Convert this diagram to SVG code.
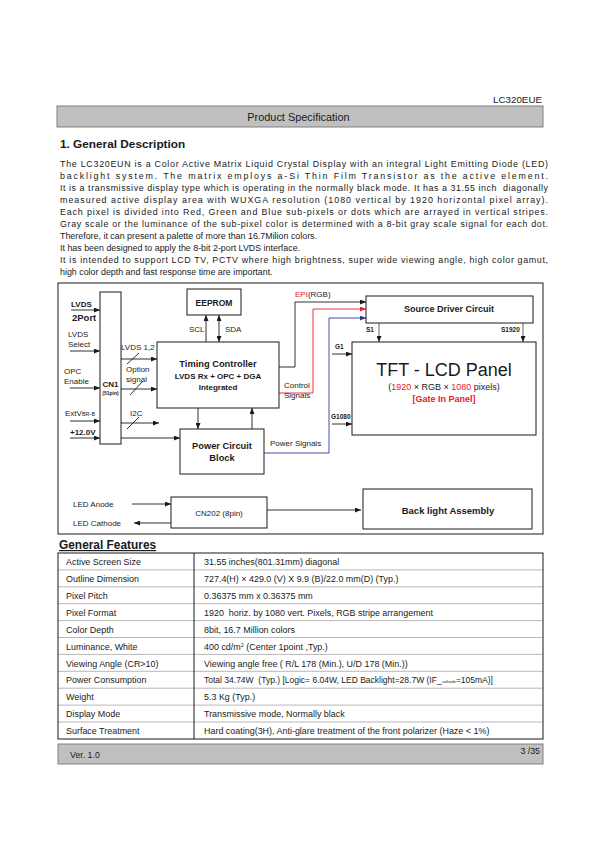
<svg xmlns="http://www.w3.org/2000/svg" width="595" height="842" viewBox="0 0 595 842">
<style>
text{font-family:"Liberation Sans",Arial,sans-serif;fill:#1a1a1a}
.p{font-size:8.9px}
.b{font-weight:bold}
.box{fill:#fff;stroke:#1a1a1a;stroke-width:1}
.ln{fill:none;stroke:#1a1a1a;stroke-width:0.9}
.lb{font-size:8px}
.t{font-size:8.95px}
.row{stroke:#999;stroke-width:0.7}
.pre{white-space:pre}
</style>
<defs>
<marker id="ah" markerUnits="userSpaceOnUse" markerWidth="6" markerHeight="5" refX="6" refY="2.5" orient="auto-start-reverse"><path d="M0,0 L6,2.5 L0,5 z" fill="#1a1a1a"/></marker>
<marker id="ahr" markerUnits="userSpaceOnUse" markerWidth="6" markerHeight="5" refX="6" refY="2.5" orient="auto"><path d="M0,0 L6,2.5 L0,5 z" fill="#e8202a"/></marker>
<marker id="ahb" markerUnits="userSpaceOnUse" markerWidth="6" markerHeight="5" refX="6" refY="2.5" orient="auto"><path d="M0,0 L6,2.5 L0,5 z" fill="#2b3a9a"/></marker>
</defs>
<rect width="595" height="842" fill="#fff"/>

<!-- header -->
<text x="542" y="103" font-size="9.8" text-anchor="end">LC320EUE</text>
<rect x="57" y="106" width="486" height="21" fill="#c0c0c0" stroke="#808080" stroke-width="1"/>
<text x="298.5" y="121" font-size="10.9" text-anchor="middle">Product Specification</text>
<text x="60" y="148" font-size="11.8" class="b">1. General Description</text>

<!-- paragraph -->
<g class="p">
<text x="60" y="167" textLength="488" lengthAdjust="spacing">The LC320EUN is a Color Active Matrix Liquid Crystal Display with an integral Light Emitting Diode (LED)</text>
<text x="60" y="179" textLength="488" lengthAdjust="spacing">backlight system. The matrix employs a-Si Thin Film Transistor as the active element.</text>
<text x="60" y="191" textLength="488" lengthAdjust="spacing" class="pre">It is a transmissive display type which is operating in the normally black mode. It has a 31.55 inch  diagonally</text>
<text x="60" y="203" textLength="488" lengthAdjust="spacing">measured active display area with WUXGA resolution (1080 vertical by 1920 horizontal pixel array).</text>
<text x="60" y="215" textLength="488" lengthAdjust="spacing">Each pixel is divided into Red, Green and Blue sub-pixels or dots which are arrayed in vertical stripes.</text>
<text x="60" y="227" textLength="488" lengthAdjust="spacing">Gray scale or the luminance of the sub-pixel color is determined with a 8-bit gray scale signal for each dot.</text>
<text x="60" y="239">Therefore, it can present a palette of more than 16.7Milion colors.</text>
<text x="60" y="251">It has been designed to apply the 8-bit 2-port LVDS interface.</text>
<text x="60" y="263" textLength="488" lengthAdjust="spacing">It is intended to support LCD TV, PCTV where high brightness, super wide viewing angle, high color gamut,</text>
<text x="60" y="275">high color depth and fast response time are important.</text>
</g>

<!-- block diagram frame -->
<rect x="58" y="283" width="485" height="251" fill="none" stroke="#1a1a1a" stroke-width="1"/>

<!-- connectors -->
<g id="connectors">
 <line class="ln" x1="71" y1="310" x2="100" y2="310" marker-end="url(#ah)"/>
 <line class="ln" x1="70" y1="351" x2="100" y2="351" marker-end="url(#ah)"/>
 <line class="ln" x1="70" y1="388" x2="100" y2="388" marker-end="url(#ah)"/>
 <line class="ln" x1="70" y1="421" x2="100" y2="421" marker-end="url(#ah)"/>
 <line class="ln" x1="70" y1="438" x2="100" y2="438" marker-end="url(#ah)"/>
 <line class="ln" x1="121" y1="359" x2="157" y2="359" marker-end="url(#ah)"/>
 <line class="ln" x1="127" y1="364" x2="139" y2="353"/>
 <line class="ln" x1="121" y1="389" x2="157" y2="389" marker-end="url(#ah)"/>
 <line class="ln" x1="130" y1="395" x2="143" y2="381"/>
 <line class="ln" x1="121" y1="423" x2="159" y2="423" marker-end="url(#ah)"/>
 <line class="ln" x1="127" y1="429" x2="139" y2="417"/>
 <line class="ln" x1="121" y1="438" x2="180" y2="438" marker-end="url(#ah)"/>
 <line class="ln" x1="206" y1="342" x2="206" y2="315" marker-end="url(#ah)"/>
 <line class="ln" x1="219" y1="315" x2="219" y2="342" marker-start="url(#ah)" marker-end="url(#ah)"/>
 <line class="ln" x1="198" y1="408" x2="198" y2="429" marker-end="url(#ah)"/>
 <line class="ln" x1="252" y1="429" x2="252" y2="408" marker-end="url(#ah)"/>
 <polyline class="ln" points="279,367 295,367 295,302 366,302" marker-end="url(#ah)"/>
 <polyline fill="none" stroke="#e8202a" stroke-width="0.9" points="279,393 313,393 313,309 366,309" marker-end="url(#ahr)"/>
 <polyline fill="none" stroke="#2b3a9a" stroke-width="0.9" points="264,453 329,453 329,318 366,318" marker-end="url(#ahb)"/>
 <line stroke="#555" stroke-width="0.9" x1="379" y1="323" x2="379" y2="342" marker-end="url(#ah)"/>
 <line stroke="#555" stroke-width="0.9" x1="523" y1="323" x2="523" y2="342" marker-end="url(#ah)"/>
 <line class="ln" x1="332" y1="354" x2="352" y2="354" marker-end="url(#ah)"/>
 <line class="ln" x1="332" y1="424" x2="352" y2="424" marker-end="url(#ah)"/>
 <line class="ln" x1="132" y1="504" x2="171" y2="504" marker-end="url(#ah)"/>
 <line class="ln" x1="171" y1="523" x2="134" y2="523" marker-end="url(#ah)"/>
 <line stroke="#777" stroke-width="1.6" x1="267" y1="510" x2="361" y2="510" marker-end="url(#ah)"/>
</g>

<!-- labels -->
<g id="labels" class="lb">
 <text x="71" y="307" class="b">LVDS</text>
 <text x="72" y="321" font-size="9.5" class="b">2Port</text>
 <text x="68" y="337">LVDS</text>
 <text x="68" y="347">Select</text>
 <text x="64" y="374">OPC</text>
 <text x="64" y="384">Enable</text>
 <text x="65" y="416">ExtV<tspan font-size="5.5">BR-B</tspan></text>
 <text x="70" y="435" class="b">+12.0V</text>
 <text x="121" y="350">LVDS 1,2</text>
 <text x="126" y="372">Option</text>
 <text x="126" y="382">signal</text>
 <text x="130" y="416">I2C</text>
 <text x="189" y="332">SCL</text>
 <text x="225" y="332">SDA</text>
 <text x="295" y="297"><tspan fill="#e8202a">EPI</tspan>(RGB)</text>
 <text x="284" y="388">Control</text>
 <text x="284" y="398">Signals</text>
 <text x="270" y="446">Power Signals</text>
 <text x="366" y="332" font-size="6.5" class="b">S1</text>
 <text x="501" y="332" font-size="6.5" class="b">S1920</text>
 <text x="335" y="349" font-size="6.5" class="b">G1</text>
 <text x="331" y="419" font-size="6.5" class="b">G1080</text>
 <text x="73" y="507">LED Anode</text>
 <text x="73" y="526">LED Cathode</text>
</g>

<!-- nodes -->
<g id="cn1">
 <rect class="box" x="100" y="292" width="21" height="152"/>
 <text x="110.5" y="387" font-size="8" class="b" text-anchor="middle">CN1</text>
 <text x="110.5" y="395" font-size="5" class="b" text-anchor="middle">(51pin)</text>
</g>
<g id="eeprom">
 <rect class="box" x="187" y="289" width="54" height="26"/>
 <text x="214" y="306" font-size="8.5" class="b" text-anchor="middle">EEPROM</text>
</g>
<g id="timing-controller">
 <rect class="box" x="157" y="342" width="122" height="66"/>
 <text x="218" y="367" font-size="9.3" class="b" text-anchor="middle">Timing Controller</text>
 <text x="218" y="379" font-size="8" class="b" text-anchor="middle">LVDS Rx + OPC + DGA</text>
 <text x="218" y="389.5" font-size="8" class="b" text-anchor="middle">Integrated</text>
</g>
<g id="power-circuit">
 <rect class="box" x="180" y="429" width="84" height="45"/>
 <text x="222" y="449" font-size="9.3" class="b" text-anchor="middle">Power Circuit</text>
 <text x="222" y="460.5" font-size="9.3" class="b" text-anchor="middle">Block</text>
</g>
<g id="source-driver">
 <rect class="box" x="366" y="296" width="167" height="27"/>
 <text x="449" y="312" font-size="9" class="b" text-anchor="middle">Source Driver Circuit</text>
</g>
<g id="tft-panel">
 <rect class="box" x="352" y="342" width="184" height="93"/>
 <text x="444" y="376" font-size="18" text-anchor="middle">TFT - LCD Panel</text>
 <text x="444" y="390" font-size="9" text-anchor="middle">(<tspan fill="#e8202a">1920</tspan> × RGB × <tspan fill="#e8202a">1080</tspan> pixels)</text>
 <text x="444" y="401.5" font-size="9" class="b" text-anchor="middle" style="fill:#e8202a">[Gate In Panel]</text>
</g>
<g id="cn202">
 <rect class="box" x="171" y="497" width="96" height="31"/>
 <text x="219" y="516" font-size="8" text-anchor="middle">CN202 (8pin)</text>
</g>
<g id="backlight">
 <rect class="box" x="363" y="489" width="169" height="40"/>
 <text x="448" y="513.5" font-size="9.5" class="b" text-anchor="middle">Back light Assembly</text>
</g>

<!-- General features -->
<text x="59" y="549" font-size="11.9" class="b" text-decoration="underline">General Features</text>
<g id="table">
 <g class="row">
  <line x1="58" y1="569.9" x2="543" y2="569.9"/>
  <line x1="58" y1="586.8" x2="543" y2="586.8"/>
  <line x1="58" y1="603.7" x2="543" y2="603.7"/>
  <line x1="58" y1="620.6" x2="543" y2="620.6"/>
  <line x1="58" y1="637.5" x2="543" y2="637.5"/>
  <line x1="58" y1="654.4" x2="543" y2="654.4"/>
  <line x1="58" y1="671.3" x2="543" y2="671.3"/>
  <line x1="58" y1="688.2" x2="543" y2="688.2"/>
  <line x1="58" y1="705.1" x2="543" y2="705.1"/>
  <line x1="58" y1="722" x2="543" y2="722"/>
 </g>
 <line x1="194" y1="553" x2="194" y2="739" stroke="#1a1a1a" stroke-width="1"/>
 <rect x="58" y="553" width="485" height="186" fill="none" stroke="#1a1a1a" stroke-width="1"/>
 <g class="t">
  <text x="66" y="565">Active Screen Size</text>
  <text x="66" y="582">Outline Dimension</text>
  <text x="66" y="599">Pixel Pitch</text>
  <text x="66" y="616">Pixel Format</text>
  <text x="66" y="632.5">Color Depth</text>
  <text x="66" y="649.5">Luminance, White</text>
  <text x="66" y="666.5">Viewing Angle (CR&gt;10)</text>
  <text x="66" y="683">Power Consumption</text>
  <text x="66" y="700">Weight</text>
  <text x="66" y="717">Display Mode</text>
  <text x="66" y="734">Surface Treatment</text>
  <text x="204" y="565">31.55 inches(801.31mm) diagonal</text>
  <text x="204" y="582">727.4(H) × 429.0 (V) X 9.9 (B)/22.0 mm(D) (Typ.)</text>
  <text x="204" y="599">0.36375 mm x 0.36375 mm</text>
  <text x="204" y="616" class="pre">1920  horiz. by 1080 vert. Pixels, RGB stripe arrangement</text>
  <text x="204" y="632.5">8bit, 16.7 Million colors</text>
  <text x="204" y="649.5">400 cd/m<tspan font-size="5.5" dy="-3">2</tspan><tspan dy="3"> (Center 1point ,Typ.)</tspan></text>
  <text x="204" y="666.5">Viewing angle free ( R/L 178 (Min.), U/D 178 (Min.))</text>
  <text x="204" y="683" class="pre" font-size="8.5">Total 34.74W  (Typ.) [Logic= 6.04W, LED Backlight=28.7W (IF_<tspan font-size="4">cathode</tspan>=105mA)]</text>
  <text x="204" y="700">5.3 Kg (Typ.)</text>
  <text x="204" y="717">Transmissive mode, Normally black</text>
  <text x="204" y="734">Hard coating(3H), Anti-glare treatment of the front polarizer (Haze &lt; 1%)</text>
 </g>
</g>

<!-- footer -->
<rect x="58" y="744" width="485" height="20" fill="#c0c0c0" stroke="#808080" stroke-width="1"/>
<text x="70" y="758" font-size="8.8">Ver. 1.0</text>
<text x="540" y="754" font-size="8.8" text-anchor="end">3 /35</text>
</svg>
